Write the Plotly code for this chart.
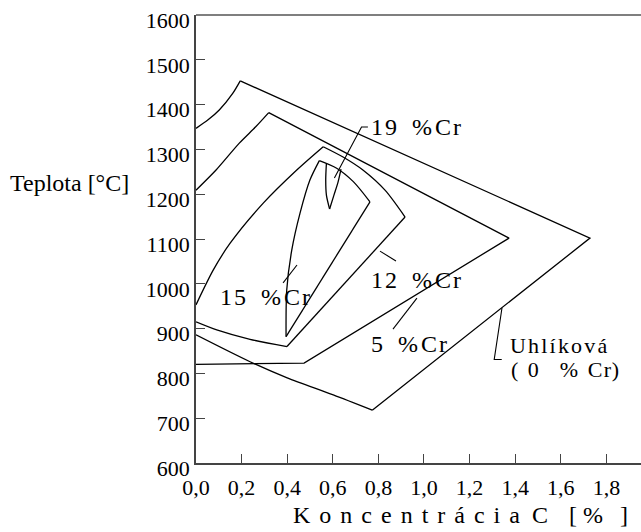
import plotly.graph_objects as go

# ---------------- data ----------------
x_tick_vals = [0.0, 0.2, 0.4, 0.6, 0.8, 1.0, 1.2, 1.4, 1.6, 1.8]
x_tick_text = ["0,0", "0,2", "0,4", "0,6", "0,8", "1,0", "1,2", "1,4", "1,6", "1,8"]
y_tick_vals = [600, 700, 800, 900, 1000, 1100, 1200, 1300, 1400, 1500, 1600]

# Uhlíková (0 % Cr)
c0_arc_x = [0.0, 0.053, 0.102, 0.161, 0.194]
c0_arc_y = [1347, 1366, 1388, 1425, 1453]
c0_edge_x = [0.194, 1.728, 0.773]
c0_edge_y = [1453, 1102, 718]
c0_low_x = [0.773, 0.602, 0.400, 0.237, 0.0]
c0_low_y = [718, 752, 790, 826, 886]

# 5 % Cr
c5_arc_x = [0.0, 0.088, 0.190, 0.263, 0.319]
c5_arc_y = [1209, 1254, 1314, 1351, 1382]
c5_edge_x = [0.319, 1.373, 0.474, 0.0]
c5_edge_y = [1382, 1102, 823, 820]

# 12 % Cr
c12_left_x = [0.0, 0.076, 0.149, 0.295, 0.442, 0.558]
c12_left_y = [953, 1031, 1090, 1180, 1254, 1306]
c12_top_x = [0.558, 0.645, 0.732, 0.829, 0.917]
c12_top_y = [1306, 1283, 1254, 1209, 1149]
c12_edge_x = [0.917, 0.399]
c12_edge_y = [1149, 860]
c12_low_x = [0.399, 0.237, 0.091, 0.0]
c12_low_y = [860, 876, 897, 915]

# 15 % Cr
c15_left_x = [0.395, 0.398, 0.420, 0.456, 0.500, 0.541]
c15_left_y = [882, 986, 1075, 1157, 1232, 1275]
c15_top_x = [0.541, 0.617, 0.690, 0.763]
c15_top_y = [1275, 1258, 1228, 1183]
c15_edge_x = [0.763, 0.395]
c15_edge_y = [1183, 882]

# 19 % Cr
c19_left_x = [0.572, 0.569, 0.572, 0.586]
c19_left_y = [1269, 1232, 1198, 1167]
c19_right_x = [0.586, 0.605, 0.623, 0.636]
c19_right_y = [1167, 1198, 1227, 1256]

# leader lines
lead19_x = [0.607, 0.726, 0.754]
lead19_y = [1236, 1350, 1350]
lead15_x = [0.382, 0.443]
lead15_y = [1002, 1042]
lead12_x = [0.807, 0.877]
lead12_y = [1073, 1051]
lead5_x = [0.864, 0.969]
lead5_y = [899, 968]
lead0_x = [1.342, 1.308, 1.341]
lead0_y = [946, 831, 831]

# labels (text pieces with letter spacing in px)
NB = "\u00a0"
def cr_label(num):
    return [(num, 2), (NB, 7), ("%", 3), ("C", 2), ("r", 0)]

label_parts = [
    cr_label("19"),
    cr_label("15"),
    cr_label("12"),
    cr_label("5"),
    [("Uhlíková", 2.2)],
    [("(", 2), (NB, 2), ("0", 8), (NB, 7.5), ("%", 2), (NB, 2), ("C", 1.3), ("r", 0.7), (")", 0)],
]
label_x = [0.763, 0.101, 0.763, 0.763, 1.373, 1.377]
label_y = [1350, 970, 1008, 866, 863, 808]
label_size = [24, 24, 24, 24, 22, 22]

x_title_parts = [("Koncentrácia", 9), (NB, -3), ("C", 9), (NB, 6), ("[", 0), (NB, 0),
                 ("%", 8), (NB, 3), ("]", 0)]
y_title = "Teplota [°C]"

# ---------------- figure ----------------
FONT = "Liberation Serif"

def spaced(parts):
    return "".join('<span style="letter-spacing:%spx">%s</span>' % (ls, t) for t, ls in parts)

fig = go.Figure()

def add_line(xs, ys, spline=False, width=1.3):
    fig.add_trace(go.Scatter(
        x=xs, y=ys, mode="lines",
        line=dict(color="black", width=width, shape="spline" if spline else "linear", smoothing=0.8),
        hoverinfo="skip", showlegend=False, cliponaxis=False))

add_line(c0_arc_x, c0_arc_y, True)
add_line(c0_edge_x, c0_edge_y)
add_line(c0_low_x, c0_low_y, True)
add_line(c5_arc_x, c5_arc_y, True)
add_line(c5_edge_x, c5_edge_y)
add_line(c12_left_x, c12_left_y, True)
add_line(c12_top_x, c12_top_y, True)
add_line(c12_edge_x, c12_edge_y)
add_line(c12_low_x, c12_low_y, True)
add_line(c15_left_x, c15_left_y, True)
add_line(c15_top_x, c15_top_y, True)
add_line(c15_edge_x, c15_edge_y)
add_line(c19_left_x, c19_left_y, True)
add_line(c19_right_x, c19_right_y, True)
for lx, ly in [(lead19_x, lead19_y), (lead15_x, lead15_y), (lead12_x, lead12_y),
               (lead5_x, lead5_y), (lead0_x, lead0_y)]:
    add_line(lx, ly, width=1.1)

for parts, xx, yy, sz in zip(label_parts, label_x, label_y, label_size):
    fig.add_annotation(x=xx, y=yy, xref="x", yref="y", text=spaced(parts), showarrow=False,
                       xanchor="left", yanchor="middle", borderpad=0,
                       font=dict(family=FONT, size=sz, color="black"))

fig.add_annotation(x=-0.146, y=1225, xref="paper", yref="y", text=y_title, showarrow=False,
                   xanchor="right", yanchor="middle", font=dict(family=FONT, size=24, color="black"))
fig.add_annotation(x=0.975, y=-0.116, xref="paper", yref="paper", text=spaced(x_title_parts),
                   showarrow=False, xanchor="right", yanchor="middle",
                   font=dict(family=FONT, size=24, color="black"))

fig.add_shape(type="line", xref="paper", yref="paper", x0=0, x1=1, y0=1, y1=1,
              line=dict(color="#555", width=1.6))

axis_common = dict(showline=True, linecolor="#444", linewidth=1.6, ticks="inside", ticklen=9,
                   tickcolor="#444", tickwidth=1.3, showgrid=False, zeroline=False,
                   ticklabeloverflow="allow",
                   tickfont=dict(family=FONT, size=22, color="black"))
fig.update_xaxes(range=[0, 1.9518], tickvals=x_tick_vals, ticktext=x_tick_text,
                 ticklabelstandoff=4, **axis_common)
fig.update_yaxes(range=[600, 1600], tickvals=y_tick_vals, ticklabelshift=5, **axis_common)

fig.update_layout(width=641, height=532, margin=dict(l=196, r=0, t=15, b=69),
                  plot_bgcolor="white", paper_bgcolor="white")

fig.write_html("out.html")
